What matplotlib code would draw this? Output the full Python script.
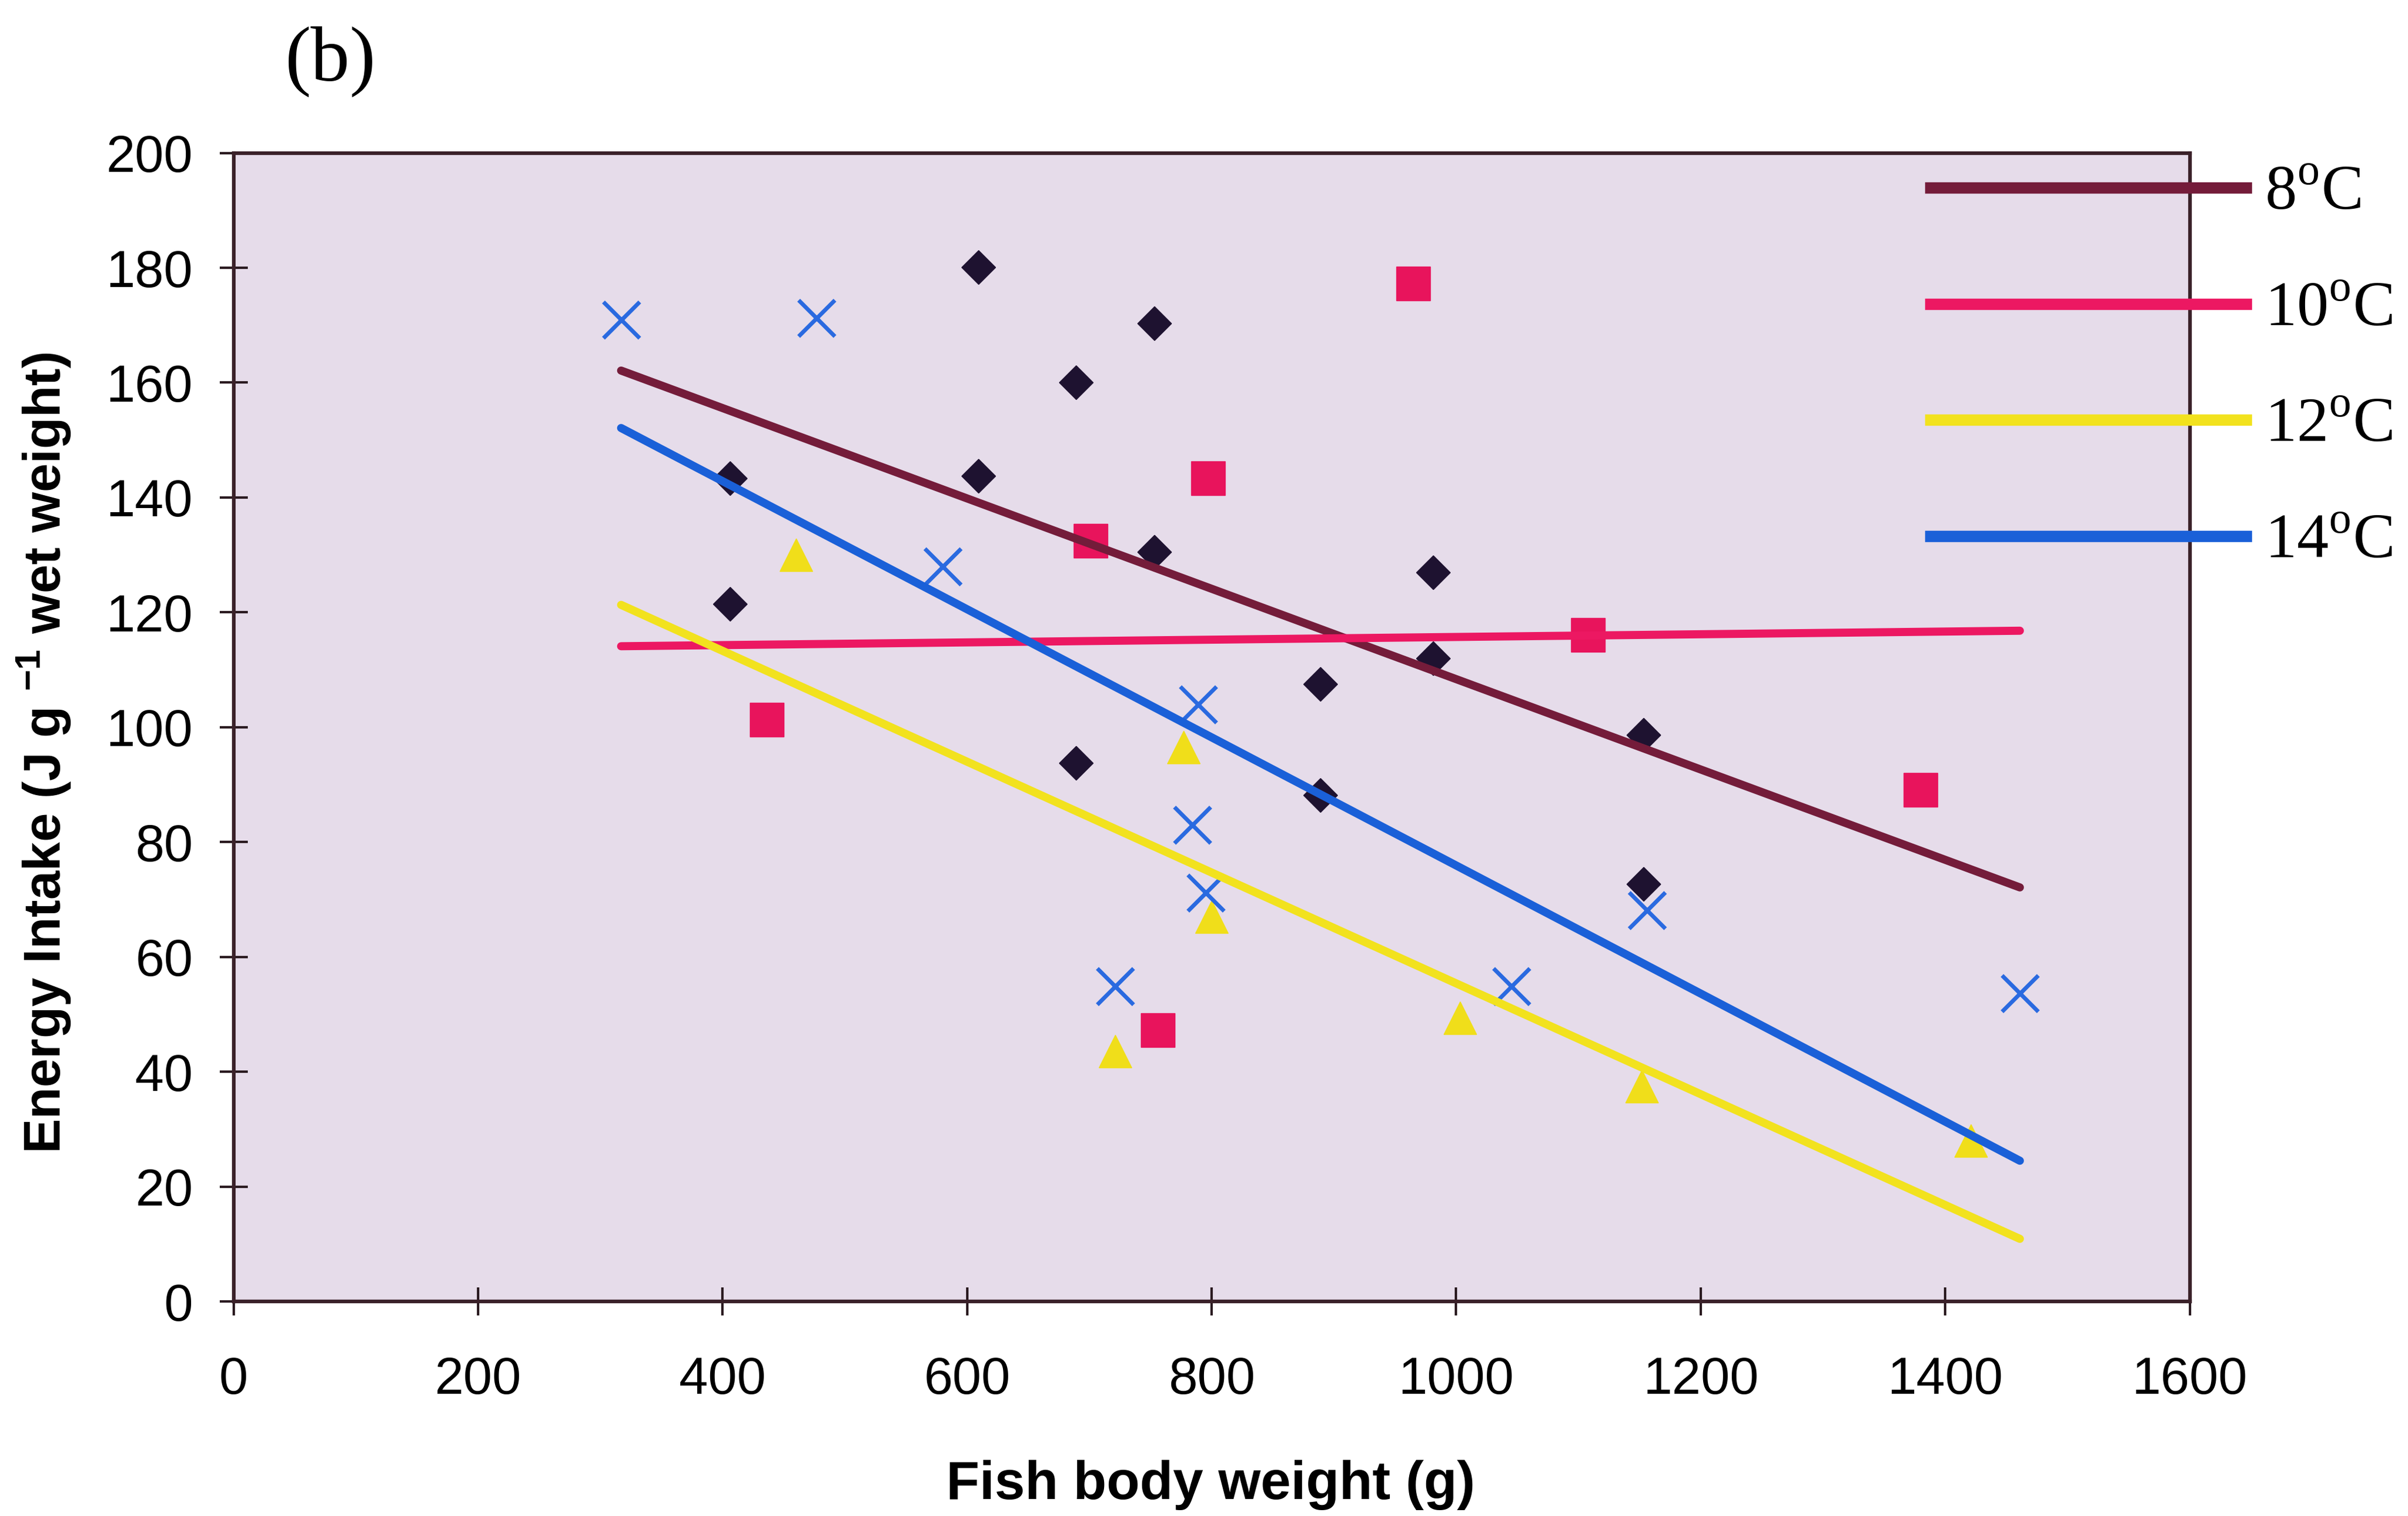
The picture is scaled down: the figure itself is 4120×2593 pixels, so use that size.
import matplotlib
matplotlib.use("Agg")
import matplotlib.pyplot as plt
from matplotlib.lines import Line2D

# Fish body weight (g) and energy intake (J g-1 wet weight) per temperature
weight_8 = [406, 406, 609, 609, 689, 689, 753, 753, 889, 889, 981, 981, 1153, 1153]
intake_8 = [121.5, 143.4, 180.1, 143.8, 160.0, 93.8, 170.3, 130.5, 107.5, 88.2,
            127.0, 112.0, 98.7, 72.7]

weight_10 = [436, 701, 756, 797, 965, 1108, 1380]
intake_10 = [101.3, 132.5, 47.2, 143.4, 177.3, 116.1, 89.1]

weight_12 = [460, 721, 777, 800, 1003, 1152, 1421]
intake_12 = [130.0, 43.6, 96.5, 67.0, 49.4, 37.5, 28.0]

weight_14 = [317, 477, 580, 721, 784, 789, 795, 1045, 1156, 1461]
intake_14 = [170.9, 171.2, 128.0, 54.9, 83.0, 104.0, 71.2, 54.9, 68.1, 53.7]

# linear trend lines, all drawn over the same weight range
trend_x = [317, 1461]
trend_8 = [162.1, 72.1]
trend_10 = [114.1, 116.8]
trend_12 = [121.3, 10.9]
trend_14 = [152.1, 24.5]

temp_labels = [r"8$^{\rm o}$C", r"10$^{\rm o}$C", r"12$^{\rm o}$C", r"14$^{\rm o}$C"]
line_colors = ["#741c3a", "#ec1862", "#f2e21e", "#1a60d8"]

x_ticks = list(range(0, 1601, 200))
y_ticks = list(range(0, 201, 20))

plt.rcParams["font.family"] = ["Liberation Sans", "DejaVu Sans"]
plt.rcParams["mathtext.fontset"] = "custom"
plt.rcParams["mathtext.rm"] = "Liberation Serif"
plt.rcParams["mathtext.bf"] = "Liberation Sans:bold"

fig = plt.figure(figsize=(41.2, 25.93), dpi=100)
ax = fig.add_axes([0.09697, 0.14153, 0.81242, 0.75758])
ax.set_facecolor("#e6dcea")

# markers first, trend lines on top (as in the original)
ax.plot(weight_8, intake_8, ls="none", marker="D", ms=30, color="#1e1230", zorder=2)
ax.plot(weight_10, intake_10, ls="none", marker="s", ms=42, color="#e8145c", zorder=2)
ax.plot(weight_12, intake_12, ls="none", marker="^", ms=40, color="#f0de1a", zorder=2)
ax.plot(weight_14, intake_14, ls="none", marker="x", ms=44, mew=5, color="#2a6ae0", zorder=2)

for trend, color in zip([trend_8, trend_10, trend_12, trend_14], line_colors):
    ax.plot(trend_x, trend, color=color, lw=10, solid_capstyle="round", zorder=3)

ax.set_xlim(0, 1600)
ax.set_ylim(0, 200)
ax.set_xticks(x_ticks)
ax.set_yticks(y_ticks)
ax.tick_params(direction="inout", length=34, width=3, labelsize=64, color="#2a1a20")
ax.tick_params(axis="y", pad=33)
ax.tick_params(axis="x", pad=50)

for side in ["left", "right", "top", "bottom"]:
    ax.spines[side].set_color("#3a2129")
    ax.spines[side].set_linewidth(4.5)

ax.set_xlabel("Fish body weight (g)", fontsize=67, fontweight="bold")
ax.set_ylabel(r"Energy Intake (J g $^{\mathbf{-1}}$ wet weight)", fontsize=64, fontweight="bold")
ax.xaxis.set_label_coords(0.4994, -0.16)
ax.xaxis.label.set_va("center")
ax.yaxis.set_label_coords(-0.0972, 0.4775)
ax.yaxis.label.set_va("center")

handles = [Line2D([], [], color=c, lw=14) for c in line_colors]
leg = ax.legend(handles, temp_labels, loc="upper left", bbox_to_anchor=(0.8675, 0.989),
                frameon=False, borderpad=0, borderaxespad=0, handlelength=4.98,
                handletextpad=0.3, labelspacing=0.92,
                prop={"family": "Liberation Serif", "size": 78})

fig.text(0.137, 0.9595, "(b)", fontsize=96, family="Liberation Serif",
         ha="center", va="center")

fig.savefig("out.png", dpi=100, facecolor="white")
